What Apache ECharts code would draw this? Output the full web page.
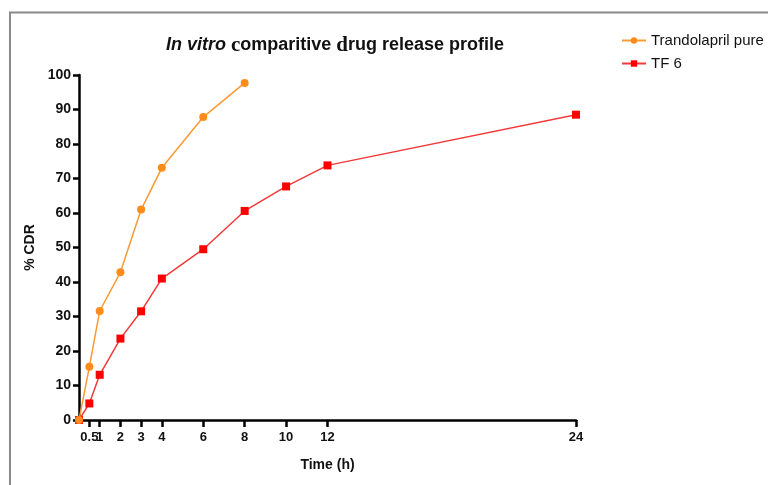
<!DOCTYPE html>
<html><head><meta charset="utf-8">
<script src="https://cdn.jsdelivr.net/npm/echarts@6/dist/echarts.min.js"></script>
<style>html,body{margin:0;padding:0;background:#fff}#c{width:768px;height:485px}</style>
</head><body><div id="c"></div>
<script>
const timePoints = [0, 0.5, 1, 2, 3, 4, 6, 8, 10, 12, 24];
const pureTimes = [0, 0.5, 1, 2, 3, 4, 6, 8];
const pureValues = [0, 15.4, 31.6, 42.8, 61.0, 73.1, 87.8, 97.7];
const tf6Times = [0, 0.5, 1, 2, 3, 4, 6, 8, 10, 12, 24];
const tf6Values = [0, 4.8, 13.1, 23.6, 31.5, 41.0, 49.5, 60.6, 67.7, 73.8, 88.5];
const xTickValues = [0.5, 1, 2, 3, 4, 6, 8, 10, 12, 24];
const seriesNames = ['Trandolapril pure', 'TF 6'];

// ECharts drops the first custom value, so lead with a duplicate of it
const xCustom = [xTickValues[0]].concat(xTickValues);

const chart = echarts.init(document.getElementById('c'));
const font = 'Liberation Sans, Arial, sans-serif';
chart.setOption({
  animation: false,
  backgroundColor: '#fff',
  graphic: [
    {type: 'polyline', shape: {points: [[10, 485], [10, 12.5], [768, 12.5]]},
     style: {stroke: '#8a8a8a', lineWidth: 2, fill: null}, silent: true}
  ],
  title: {
    text: '{i|In vitro} {s|c}{b|omparitive }{s|d}{b|rug release profile}',
    left: 330, top: 30, textAlign: 'center',
    textStyle: {
      rich: {
        i: {fontFamily: font, fontStyle: 'italic', fontWeight: 'bold', fontSize: 18, color: '#111'},
        b: {fontFamily: font, fontWeight: 'bold', fontSize: 18, color: '#111'},
        s: {fontFamily: 'Liberation Serif, serif', fontSize: 21, color: '#111'}
      }
    }
  },
  legend: {
    data: seriesNames,
    orient: 'vertical', left: 616, top: 28, itemGap: 8,
    itemWidth: 24, itemHeight: 8,
    textStyle: {fontFamily: font, fontSize: 15, color: '#111'}
  },
  grid: {left: 79, right: 192, top: 75, bottom: 65, containLabel: false},
  xAxis: {
    type: 'value', min: 0, max: 24,
    name: 'Time (h)', nameLocation: 'middle', nameGap: 38,
    nameTextStyle: {fontFamily: font, fontWeight: 'bold', fontSize: 14, color: '#111'},
    axisLine: {show: true, lineStyle: {color: '#000', width: 2.5}},
    axisTick: {show: true, length: 7, customValues: xCustom, lineStyle: {color: '#000', width: 2.5}},
    axisLabel: {customValues: xCustom, showMinLabel: true, hideOverlap: false, margin: 11,
      fontFamily: font, fontWeight: 'bold', fontSize: 13, color: '#111'},
    splitLine: {show: false}
  },
  yAxis: {
    type: 'value', min: 0, max: 100, interval: 10,
    name: '% CDR', nameLocation: 'middle', nameGap: 41, nameRotate: 90,
    nameTextStyle: {fontFamily: font, fontWeight: 'bold', fontSize: 14, color: '#111'},
    axisLine: {show: true, lineStyle: {color: '#000', width: 2.5}},
    axisTick: {show: true, length: 6, lineStyle: {color: '#000', width: 2.5}},
    axisLabel: {margin: 8, fontFamily: font, fontWeight: 'bold', fontSize: 14, color: '#111'},
    splitLine: {show: false}
  },
  series: [
    {
      name: seriesNames[1], type: 'line', z: 2,
      data: tf6Times.map((t, i) => [t, tf6Values[i]]),
      symbol: 'rect', symbolSize: 8,
      lineStyle: {color: '#f23a3a', width: 1.5},
      itemStyle: {color: '#ff0000', borderWidth: 0}
    },
    {
      name: seriesNames[0], type: 'line', z: 3,
      data: pureTimes.map((t, i) => [t, pureValues[i]]),
      symbol: 'circle', symbolSize: 8,
      lineStyle: {color: '#f99a35', width: 1.5},
      itemStyle: {color: '#ff8c1a', borderWidth: 0}
    }
  ]
});
</script></body></html>
